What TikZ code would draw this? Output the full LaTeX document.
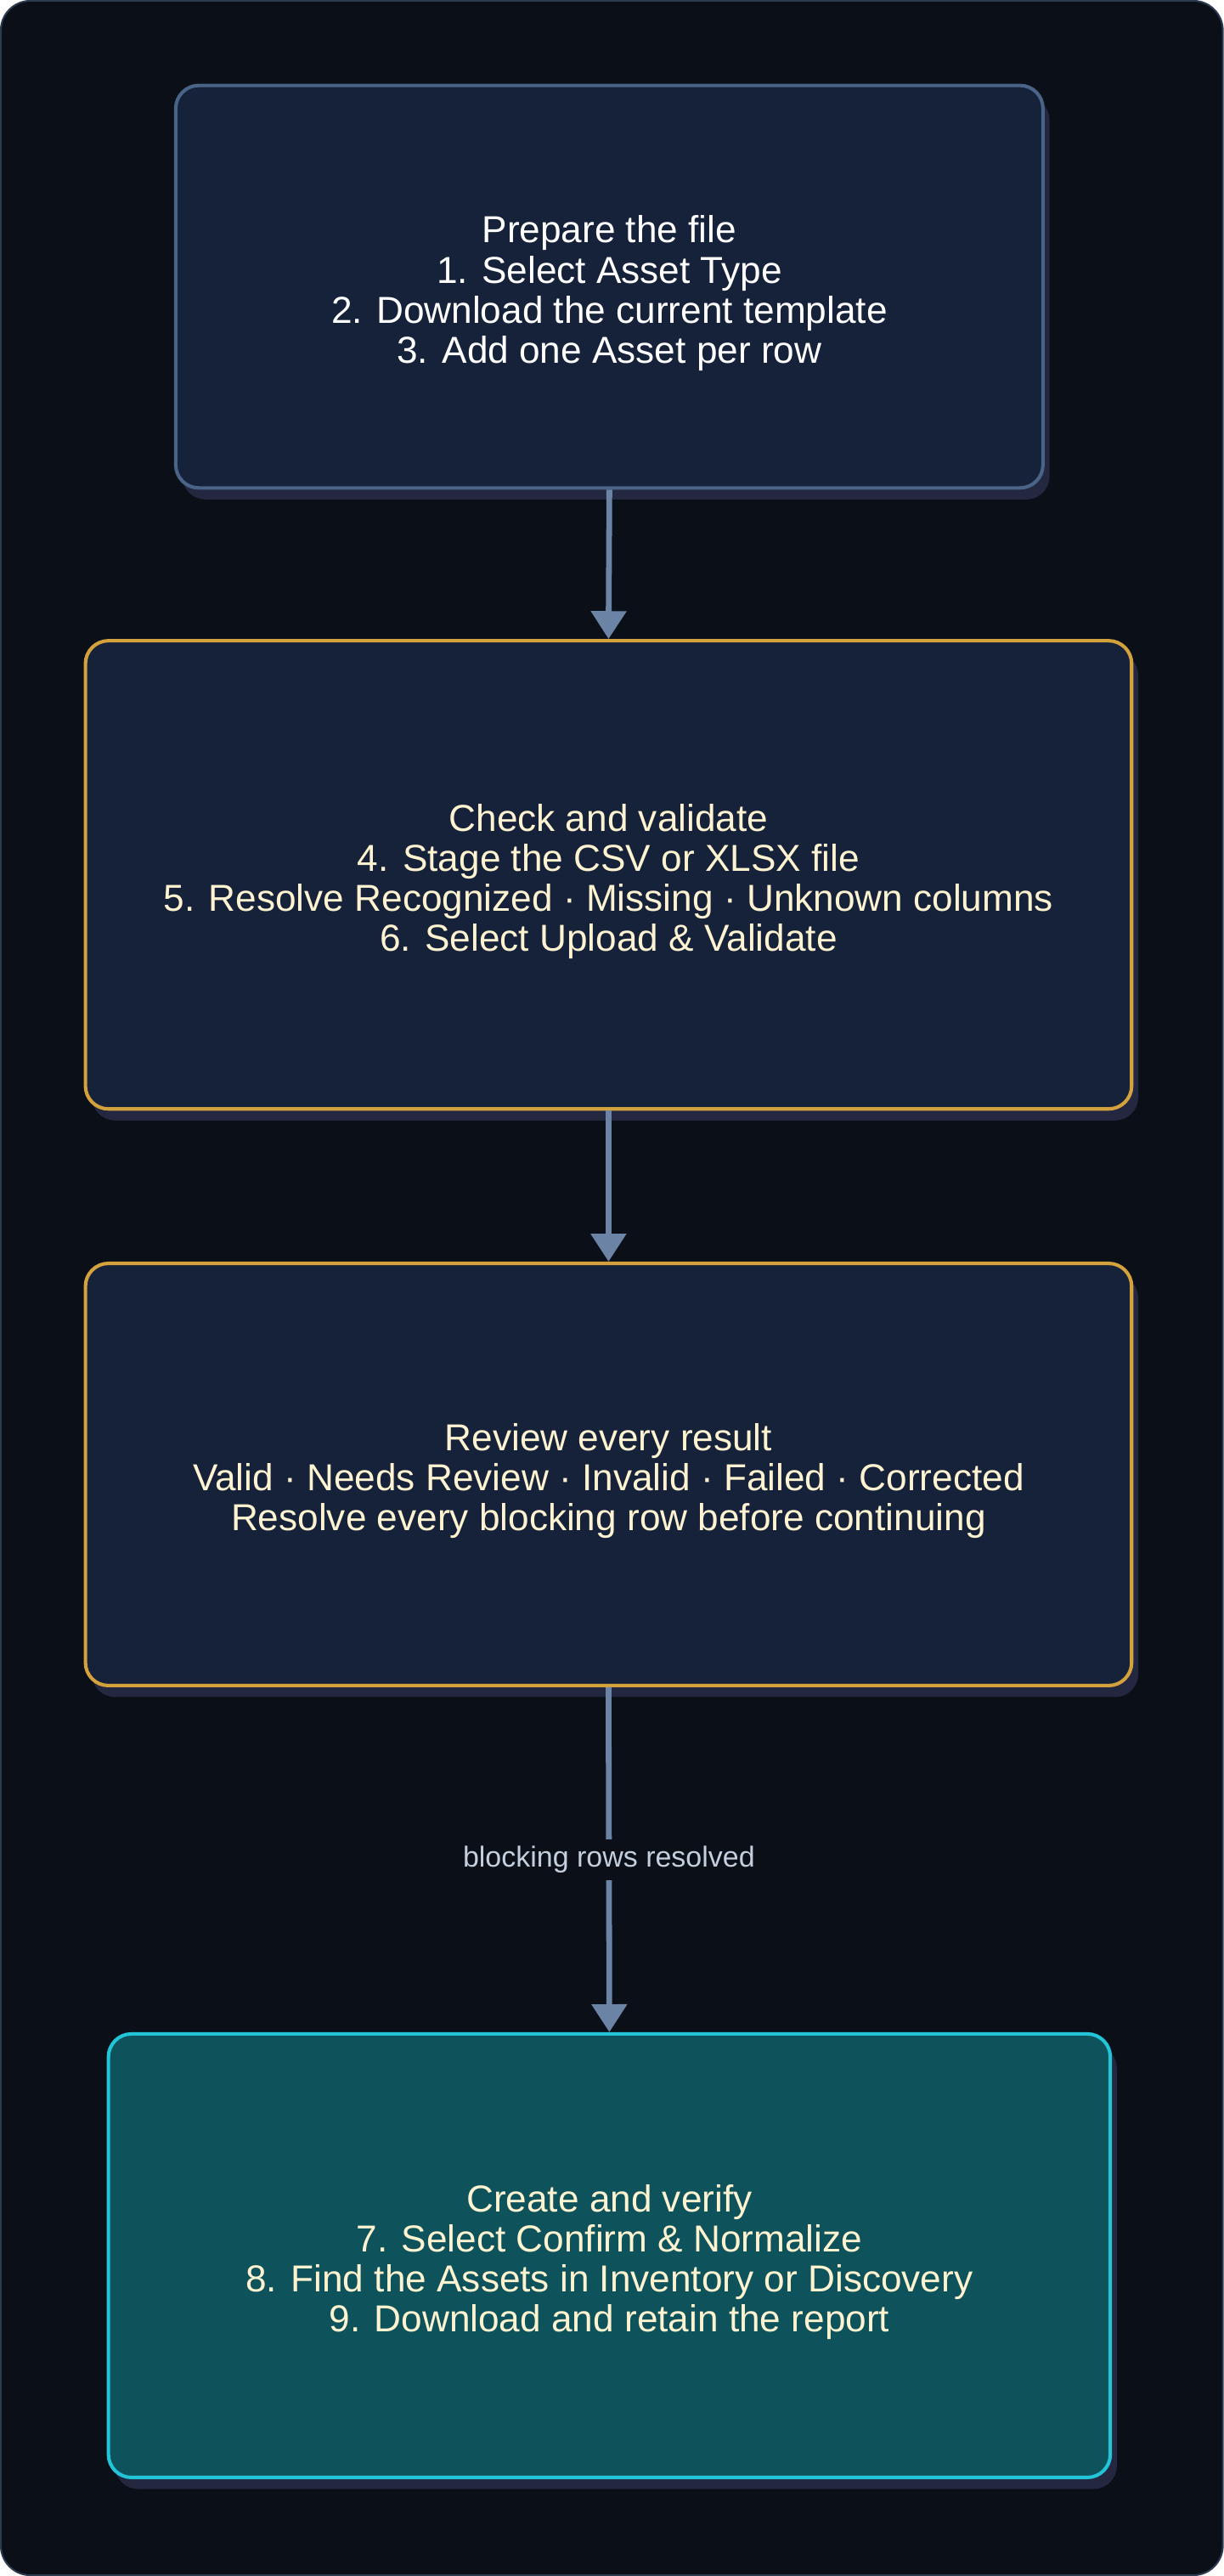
\documentclass[tikz,border=0pt]{standalone}
\usepackage{fontspec}
\setmainfont{Liberation Sans}
\usetikzlibrary{arrows.meta,shadows}
\definecolor{bg}{HTML}{0B0F17}
\definecolor{boxfill}{HTML}{16213A}
\definecolor{gold}{HTML}{D4A23C}
\definecolor{shad}{HTML}{232840}
\definecolor{arr}{HTML}{6B84A6}
\definecolor{tealfill}{HTML}{0E525C}
\definecolor{cyanb}{HTML}{22C5D8}
\definecolor{blueb}{HTML}{4A6487}
\definecolor{cream}{HTML}{FDF3D0}
\definecolor{lbl}{HTML}{C4CFDE}
\begin{document}
\begin{tikzpicture}[x=0.05cm,y=-0.05cm,
  box/.style={rectangle,rounded corners=0.7cm,line width=3pt,
    general shadow={fill=shad,shadow xshift=0.2cm,shadow yshift=-0.35cm}},
  txt/.style={align=center,font=\fontsize{32.5}{34.7}\selectfont,yshift=-0.2cm},
  conn/.style={draw=arr,line width=5pt,-{Triangle[width=1.05cm,length=0.85cm]}},
  lab/.style={fill=bg,text=lbl,font=\fontsize{25}{28}\selectfont,inner sep=6pt}]
\useasboundingbox (0,0) rectangle (745,1568);
\fill[bg,draw=blueb!50!bg,line width=1.5pt,rounded corners=0.9cm] (0.5,0.5) rectangle (744.5,1567.5);
\node[box,draw=blueb,fill=boxfill,minimum width=26.4cm,minimum height=12.25cm,
  label={[txt,text=white]center:{Prepare the file\\1. Select Asset Type\\2. Download the current template\\3. Add one Asset per row}}] (a) at (371,174.5) {};
\node[box,draw=gold,fill=boxfill,minimum width=31.85cm,minimum height=14.25cm,
  label={[txt,text=cream]center:{Check and validate\\4. Stage the CSV or XLSX file\\5. Resolve Recognized · Missing · Unknown columns\\6. Select Upload \& Validate}}] (b) at (370.5,532.5) {};
\node[box,draw=gold,fill=boxfill,minimum width=31.85cm,minimum height=12.85cm,
  label={[txt,text=cream]center:{Review every result\\Valid · Needs Review · Invalid · Failed · Corrected\\Resolve every blocking row before continuing}}] (c) at (370.5,897.5) {};
\node[box,draw=cyanb,fill=tealfill,minimum width=30.5cm,minimum height=13.5cm,
  label={[txt,text=cream]center:{Create and verify\\7. Select Confirm \& Normalize\\8. Find the Assets in Inventory or Discovery\\9. Download and retain the report}}] (d) at (371,1373) {};
\draw[conn] (a.south) -- (b.north);
\draw[conn] (b.south) -- (c.north);
\draw[conn] (c.south) -- node[lab,pos=0.5] (l) {blocking rows resolved} (d.north);
\end{tikzpicture}
\end{document}
